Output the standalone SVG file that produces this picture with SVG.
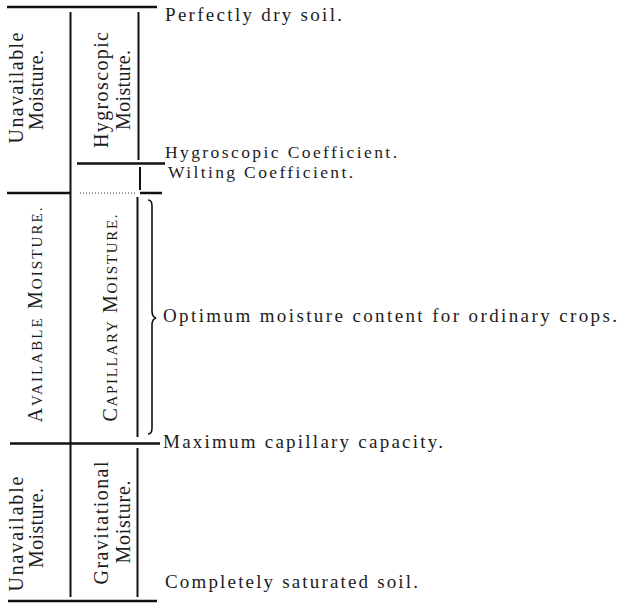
<svg xmlns="http://www.w3.org/2000/svg" width="623" height="603" viewBox="0 0 623 603">
<style>
  text { font-family: "Liberation Serif", "Times New Roman", serif; fill: #1c1c1c; }
  .lbl { font-size: 19px; }
  .tight { font-size: 17.5px; }
  .rot { font-size: 20px; text-anchor: middle; }
  .sc { font-size: 15px; }
  .rule { stroke: #111; stroke-width: 2.5; fill: none; }
  .vr { stroke: #111; stroke-width: 2; fill: none; }
  .dot { stroke: #333; stroke-width: 1; stroke-dasharray: 1 2; fill: none; }
  .brace { stroke: #111; stroke-width: 1.6; fill: none; }
</style>
<rect width="623" height="603" fill="#fff"/>
<g id="connectors">
  <line class="rule" x1="7" y1="7" x2="157" y2="7"/>
  <line class="vr" x1="70.5" y1="12" x2="70.5" y2="597"/>
  <line class="vr" x1="138.5" y1="12" x2="138.5" y2="160"/>
  <line class="rule" x1="77" y1="163.5" x2="165" y2="163.5"/>
  <line class="vr" x1="140" y1="167" x2="140" y2="190"/>
  <line class="rule" x1="7" y1="193" x2="70" y2="193"/>
  <line class="dot" x1="80" y1="193" x2="137" y2="193"/>
  <line class="rule" x1="140" y1="193" x2="162" y2="193"/>
  <line class="vr" x1="137.5" y1="197" x2="137.5" y2="437"/>
  <path class="brace" d="M148 200 Q152 200 152 206 L152 311 Q152 317 156 318 Q152 319 152 325 L152 428 Q152 434 148 434"/>
  <line class="rule" x1="10" y1="443.5" x2="160" y2="443.5"/>
  <line class="vr" x1="137.5" y1="448" x2="137.5" y2="597"/>
  <line class="rule" x1="8" y1="601" x2="157" y2="601"/>
</g>
<g id="node-unavailable-top">
  <text class="rot" transform="translate(23,88) rotate(-90)" textLength="111" lengthAdjust="spacing">Unavailable</text>
  <text class="rot" transform="translate(43,90) rotate(-90)" textLength="80" lengthAdjust="spacing">Moisture.</text>
</g>
<g id="node-hygroscopic">
  <text class="rot" transform="translate(108,90) rotate(-90)" textLength="116" lengthAdjust="spacing">Hygroscopic</text>
  <text class="rot" transform="translate(130,90) rotate(-90)" textLength="80" lengthAdjust="spacing">Moisture.</text>
</g>
<g id="node-available">
  <text class="rot" transform="translate(42,315) rotate(-90)" textLength="215" lengthAdjust="spacing">A<tspan class="sc">VAILABLE</tspan> M<tspan class="sc">OISTURE.</tspan></text>
</g>
<g id="node-capillary">
  <text class="rot" transform="translate(117,318) rotate(-90)" textLength="207" lengthAdjust="spacing">C<tspan class="sc">APILLARY</tspan> M<tspan class="sc">OISTURE.</tspan></text>
</g>
<g id="node-unavailable-bottom">
  <text class="rot" transform="translate(23,534) rotate(-90)" textLength="115" lengthAdjust="spacing">Unavailable</text>
  <text class="rot" transform="translate(43,528) rotate(-90)" textLength="80" lengthAdjust="spacing">Moisture.</text>
</g>
<g id="node-gravitational">
  <text class="rot" transform="translate(108,523) rotate(-90)" textLength="123" lengthAdjust="spacing">Gravitational</text>
  <text class="rot" transform="translate(130,522) rotate(-90)" textLength="83" lengthAdjust="spacing">Moisture.</text>
</g>
<g id="labels">
  <text class="lbl" x="165" y="20.5" textLength="177" lengthAdjust="spacing">Perfectly dry soil.</text>
  <text class="tight" x="165" y="158" textLength="232" lengthAdjust="spacing">Hygroscopic Coefficient.</text>
  <text class="tight" x="168" y="177.5" textLength="185" lengthAdjust="spacing">Wilting Coefficient.</text>
  <text class="lbl" x="163" y="322" textLength="454" lengthAdjust="spacing">Optimum moisture content for ordinary crops.</text>
  <text class="lbl" x="163" y="448" textLength="280" lengthAdjust="spacing">Maximum capillary capacity.</text>
  <text class="lbl" x="165" y="588" textLength="253" lengthAdjust="spacing">Completely saturated soil.</text>
</g>
</svg>
